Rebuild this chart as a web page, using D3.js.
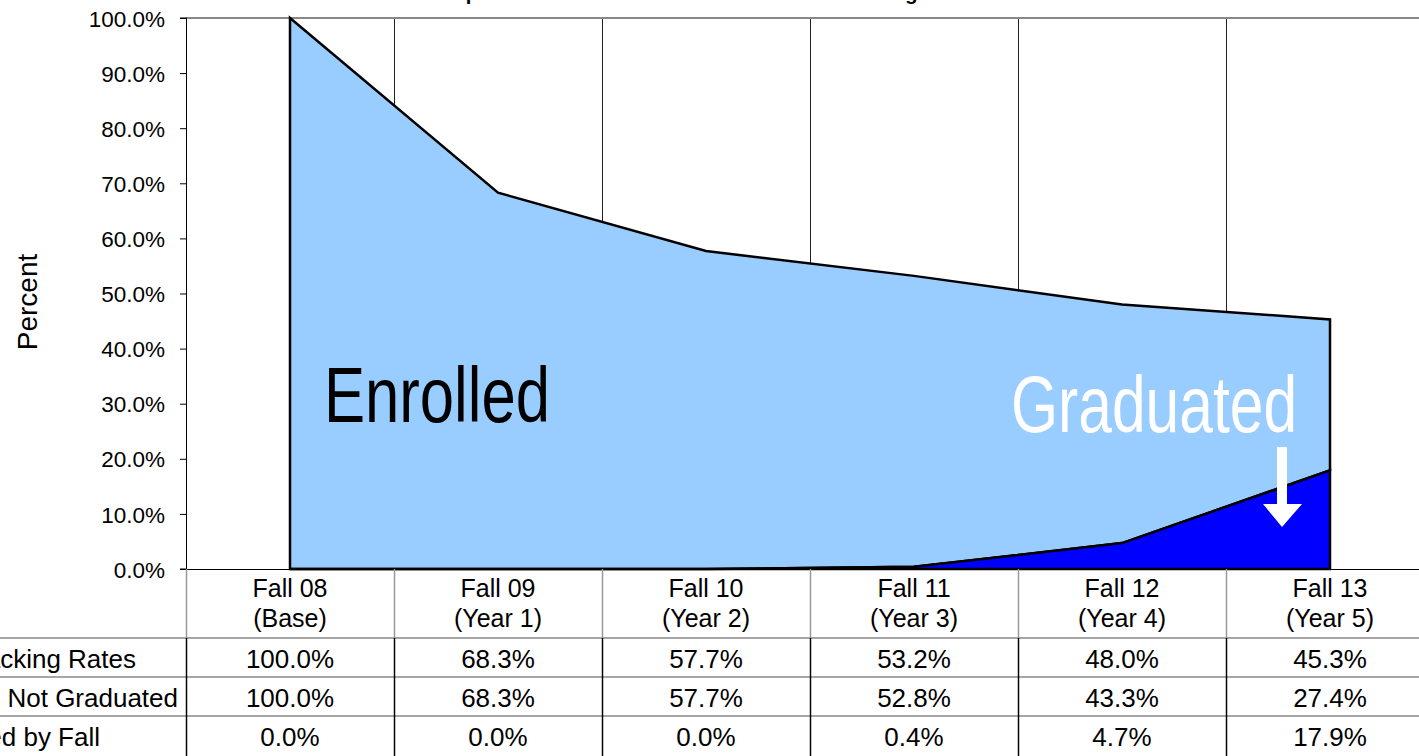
<!DOCTYPE html>
<html>
<head>
<meta charset="utf-8">
<script src="https://cdn.jsdelivr.net/npm/d3@7"></script>
<style>
  html, body { margin: 0; padding: 0; background: #fff; overflow: hidden; }
  svg { display: block; font-family: "Liberation Sans", Arial, sans-serif; }
</style>
</head>
<body>
<svg id="chart" width="1419" height="756"></svg>
<script>
// ---- data ----
const categories = ["Fall 08", "Fall 09", "Fall 10", "Fall 11", "Fall 12", "Fall 13"];
const subLabels = ["(Base)", "(Year 1)", "(Year 2)", "(Year 3)", "(Year 4)", "(Year 5)"];
const trackingRates = [100.0, 68.3, 57.7, 53.2, 48.0, 45.3];
const enrolledNotGraduated = [100.0, 68.3, 57.7, 52.8, 43.3, 27.4];
const graduatedByFall = [0.0, 0.0, 0.0, 0.4, 4.7, 17.9];
const rowLabels = ["Tracking Rates", "Enrolled, Not Graduated", "Graduated by Fall"];
const yTicks = [0, 10, 20, 30, 40, 50, 60, 70, 80, 90, 100];
const titleText = "Completion Rates for First-Time Freshmen Entering Fall 2008";

// ---- layout ----
const svg = d3.select("#chart");
const plotLeft = 186, plotTop = 18, plotBottom = 569, colW = 208;
const plotRight = plotLeft + colW * categories.length;

const x = d3.scaleBand().domain(categories).range([plotLeft, plotRight]).padding(0);
const y = d3.scaleLinear().domain([0, 100]).range([plotBottom, plotTop]);
const cx = c => x(c) + x.bandwidth() / 2;

// title (mostly cut off at the top)
svg.append("text").attr("x", 421).attr("y", 0)
  .attr("font-size", 20.2).attr("font-weight", "bold").attr("fill", "#000")
  .text(titleText);

// vertical gridlines (category boundaries)
const bounds = categories.slice(1).map(c => x(c));
svg.append("g").selectAll("line").data(bounds).join("line")
  .attr("x1", d => d + 0.5).attr("x2", d => d + 0.5)
  .attr("y1", plotTop).attr("y2", plotBottom)
  .attr("stroke", "#222").attr("stroke-width", 1);

// top border of plot
svg.append("line").attr("x1", plotLeft).attr("x2", plotRight)
  .attr("y1", plotTop).attr("y2", plotTop)
  .attr("stroke", "#888").attr("stroke-width", 2);

// stacked areas
const rows = categories.map((c, i) => ({ cat: c, grad: graduatedByFall[i], enr: enrolledNotGraduated[i] }));
const stack = d3.stack().keys(["grad", "enr"]);
const series = stack(rows);
const area = d3.area()
  .x(d => cx(d.data.cat))
  .y0(d => y(d[0]))
  .y1(d => y(d[1]));
const fills = { grad: "#0000FF", enr: "#99CCFF" };
svg.append("g").selectAll("path").data(series.slice().reverse()).join("path")
  .attr("d", area)
  .attr("fill", d => fills[d.key])
  .attr("stroke", "#000").attr("stroke-width", 2.5)
  .attr("stroke-linejoin", "miter");

// y axis
const yAxis = d3.axisLeft(y).tickValues(yTicks).tickSize(6)
  .tickFormat(d => d.toFixed(1) + "%").tickPadding(15);
const ga = svg.append("g").attr("transform", `translate(${plotLeft},0)`).call(yAxis);
ga.select(".domain").attr("stroke", "#000").attr("d", `M-6,${plotTop}H0.5V${plotBottom}H-6`);
ga.selectAll(".tick line").attr("stroke", "#000");
ga.selectAll(".tick text").attr("font-size", 22.5).attr("fill", "#000")
  .attr("font-family", "Liberation Sans, Arial, sans-serif").attr("dy", "0.36em");

// x axis baseline
svg.append("line").attr("x1", plotLeft - 6).attr("x2", plotRight)
  .attr("y1", plotBottom + 0.5).attr("y2", plotBottom + 0.5)
  .attr("stroke", "#000").attr("stroke-width", 1);

// y axis title
svg.append("text").attr("transform", "translate(37,302) rotate(-90)")
  .attr("text-anchor", "middle").attr("font-size", 28).attr("fill", "#000")
  .text("Percent");

// in-chart labels
svg.append("text").attr("transform", "translate(324,422) scale(0.8,1)")
  .attr("font-size", 77).attr("fill", "#000").text("Enrolled");
svg.append("text").attr("transform", "translate(1011,432) scale(0.757,1)")
  .attr("font-size", 80).attr("fill", "#fff").text("Graduated");

// arrow
svg.append("path")
  .attr("d", "M1277,447 H1287 V504 H1302 L1282,527 L1263,504 H1277 Z")
  .attr("fill", "#fff");

// ---- data table ----
const tableTop = plotBottom, headerBottom = 638, rowH = 39;
const tbl = svg.append("g");
// horizontal lines
[0, 1, 2].forEach(i => {
  tbl.append("line").attr("x1", 0).attr("x2", 1419)
    .attr("y1", headerBottom + i * rowH).attr("y2", headerBottom + i * rowH)
    .attr("stroke", "#888").attr("stroke-width", 1.5);
});
// vertical lines
const vlines = [plotLeft].concat(bounds);
tbl.selectAll("line.vh").data(vlines).join("line").attr("class", "vh")
  .attr("x1", d => d + 0.5).attr("x2", d => d + 0.5)
  .attr("y1", tableTop).attr("y2", headerBottom)
  .attr("stroke", "#999").attr("stroke-width", 1.5);
tbl.selectAll("line.vd").data(vlines).join("line").attr("class", "vd")
  .attr("x1", d => d + 0.5).attr("x2", d => d + 0.5)
  .attr("y1", headerBottom).attr("y2", 756)
  .attr("stroke", "#000").attr("stroke-width", 1.5);

// header labels
tbl.selectAll("text.h1").data(categories).join("text").attr("class", "h1")
  .attr("x", d => cx(d)).attr("y", 597).attr("text-anchor", "middle")
  .attr("font-size", 25).attr("fill", "#000").text(d => d);
tbl.selectAll("text.h2").data(categories).join("text").attr("class", "h2")
  .attr("x", d => cx(d)).attr("y", 627).attr("text-anchor", "middle")
  .attr("font-size", 25).attr("fill", "#000").text((d, i) => subLabels[i]);

// rows
const tableRows = [trackingRates, enrolledNotGraduated, graduatedByFall];
const labelEnds = [136, 178, 100];
tableRows.forEach((vals, r) => {
  const base = headerBottom + r * rowH + 30;
  tbl.append("text").attr("x", labelEnds[r]).attr("y", base)
    .attr("text-anchor", "end").attr("font-size", 26).attr("fill", "#000")
    .text(rowLabels[r]);
  tbl.selectAll(null).data(vals).join("text")
    .attr("x", (d, i) => cx(categories[i])).attr("y", base)
    .attr("text-anchor", "middle").attr("font-size", 26).attr("fill", "#000")
    .text(d => d.toFixed(1) + "%");
});
</script>
</body>
</html>
